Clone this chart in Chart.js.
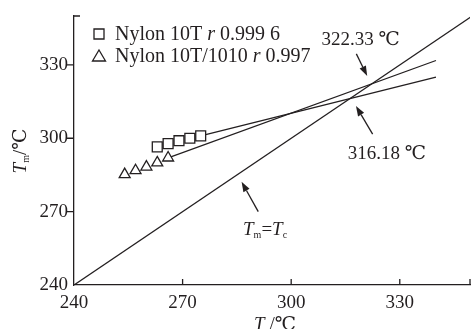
<!DOCTYPE html>
<html><head><meta charset="utf-8">
<script src="https://cdn.jsdelivr.net/npm/chart.js@4.4.0/dist/chart.umd.min.js"></script>
<style>html,body{margin:0;padding:0;background:#fff}</style>
</head><body>
<canvas id="c" width="471" height="329"></canvas>
<script>
// ---- data ----
const tcSquare   = [263, 266, 269, 272, 275];
const tmSquare   = [296.5, 297.8, 299.0, 300.0, 301.0];
const tcTriangle = [254, 257, 260, 263, 266];
const tmTriangle = [285.2, 286.8, 288.3, 290.0, 292.0];
const fitSquareX   = [275, 340];
const fitSquareY   = [301.0, 325.0];
const fitTriangleX = [266, 340];
const fitTriangleY = [292.0, 331.8];
const diagX = [240, 350];
const diagY = [240, 350];
const tickValues = [240, 270, 300, 330];
const xMin = 240, xMax = 349.4;
const yMin = 240, yMax = 350;
const legendSquare   = ['Nylon 10T ', 'r', ' 0.999 6'];
const legendTriangle = ['Nylon 10T/1010 ', 'r', ' 0.997'];
const label1 = '322.33 ℃';
const label2 = '316.18 ℃';

// annotation anchors in data units
const label1Pos = [308.4, 338.1];
const arrow1 = [[318.0, 334.5], [321.0, 325.5]];
const label2Pos = [315.6, 291.4];
const arrow2 = [[322.5, 301.7], [317.9, 313.2]];
const label3Pos = [286.7, 260.4];
const arrow3 = [[290.9, 270.0], [286.3, 282.2]];

const ink = '#231f20';
const serif = "'Liberation Serif', 'DejaVu Serif', serif";
const fs = 19;
const legendFs = 20;

const pts = (xs, ys) => xs.map((x, i) => ({x, y: ys[i]}));

function font(size, italic) { return (italic ? 'italic ' : '') + size + 'px ' + serif; }

function drawRich(ctx, x, y, segs, align, base) {
  const b = base || fs;
  let total = 0;
  segs.forEach(s => { ctx.font = font(s.size || b, s.it); s.w = ctx.measureText(s.t).width; total += s.w; });
  let cx = align === 'center' ? x - total / 2 : x;
  ctx.textAlign = 'left';
  ctx.textBaseline = 'alphabetic';
  segs.forEach(s => {
    ctx.font = font(s.size || b, s.it);
    ctx.fillText(s.t, cx, y + (s.dy || 0));
    cx += s.w;
  });
}

function arrow(ctx, x1, y1, x2, y2) {
  const ang = Math.atan2(y2 - y1, x2 - x1);
  const L = 10, W = 3.5;
  const bx = x2 - L * Math.cos(ang), by = y2 - L * Math.sin(ang);
  ctx.beginPath();
  ctx.moveTo(x1, y1); ctx.lineTo(bx, by); ctx.stroke();
  ctx.beginPath();
  ctx.moveTo(x2, y2);
  ctx.lineTo(bx + W * Math.sin(ang), by - W * Math.cos(ang));
  ctx.lineTo(bx - W * Math.sin(ang), by + W * Math.cos(ang));
  ctx.closePath(); ctx.fill();
}

const overlay = {
  id: 'overlay',
  afterDraw(chart) {
    const ctx = chart.ctx, xs = chart.scales.x, ys = chart.scales.y, a = chart.chartArea;
    ctx.save();
    ctx.strokeStyle = ink; ctx.fillStyle = ink; ctx.lineWidth = 1.3;
    // tick marks
    ctx.beginPath();
    tickValues.slice(1).concat([xMax]).forEach(v => {
      const px = Math.min(xs.getPixelForValue(v), a.right);
      ctx.moveTo(px, a.bottom); ctx.lineTo(px, a.bottom - 6);
    });
    tickValues.slice(1).forEach(v => {
      const py = ys.getPixelForValue(v);
      ctx.moveTo(a.left, py); ctx.lineTo(a.left - 7, py);
    });
    const pt = ys.getPixelForValue(yMax);
    ctx.moveTo(a.left, pt); ctx.lineTo(a.left + 6, pt);
    ctx.stroke();

    // annotations
    const P = p => [xs.getPixelForValue(p[0]), ys.getPixelForValue(p[1])];
    let p = P(label1Pos);
    drawRich(ctx, p[0], p[1], [{t: label1}], 'left');
    p = P(label2Pos);
    drawRich(ctx, p[0], p[1], [{t: label2}], 'left');
    p = P(label3Pos);
    drawRich(ctx, p[0], p[1], [{t: 'T', it: true}, {t: 'm', size: 10, dy: 3}, {t: '='}, {t: 'T', it: true}, {t: 'c', size: 10, dy: 3}], 'left');
    [arrow1, arrow2, arrow3].forEach(ar => {
      const s = P(ar[0]), e = P(ar[1]);
      arrow(ctx, s[0], s[1], e[0], e[1]);
    });

    // legend
    const lx = a.left + 25, ly1 = a.top + 18, ly2 = a.top + 40;
    ctx.fillStyle = '#fff';
    ctx.beginPath(); ctx.rect(lx - 5, ly1 - 5, 10, 10); ctx.fill(); ctx.stroke();
    ctx.beginPath();
    ctx.moveTo(lx, ly2 - 6); ctx.lineTo(lx + 6.5, ly2 + 5); ctx.lineTo(lx - 6.5, ly2 + 5); ctx.closePath();
    ctx.fill(); ctx.stroke();
    ctx.fillStyle = ink;
    drawRich(ctx, lx + 16, ly1 + 6, [{t: legendSquare[0]}, {t: legendSquare[1], it: true}, {t: legendSquare[2]}], 'left', legendFs);
    drawRich(ctx, lx + 16, ly2 + 6, [{t: legendTriangle[0]}, {t: legendTriangle[1], it: true}, {t: legendTriangle[2]}], 'left', legendFs);

    // axis titles
    drawRich(ctx, 275, 329.5, [{t: 'T', it: true}, {t: ' /℃'}], 'center');
    ctx.translate(26, 151);
    ctx.rotate(-Math.PI / 2);
    drawRich(ctx, 0, 0, [{t: 'T', it: true}, {t: 'm', size: 10, dy: 3}, {t: '/℃'}], 'center');
    ctx.restore();
  }
};

const tickFont = {family: serif, size: fs};
const baseScale = {
  type: 'linear',
  afterBuildTicks: s => { s.ticks = tickValues.map(v => ({value: v})); },
  grid: {display: false, drawTicks: false},
  border: {display: true, color: ink, width: 1.3},
};

new Chart(document.getElementById('c'), {
  type: 'scatter',
  data: {
    datasets: [
      {data: pts(diagX, diagY), showLine: true, borderColor: ink, borderWidth: 1.3, pointRadius: 0, order: 5},
      {data: pts(fitSquareX, fitSquareY), showLine: true, borderColor: ink, borderWidth: 1.3, pointRadius: 0, order: 4},
      {data: pts(fitTriangleX, fitTriangleY), showLine: true, borderColor: ink, borderWidth: 1.3, pointRadius: 0, order: 3},
      {data: pts(tcSquare, tmSquare), pointStyle: 'rect', pointRadius: 7, borderColor: ink, backgroundColor: '#fff', borderWidth: 1.3, order: 1},
      {data: pts(tcTriangle, tmTriangle), pointStyle: 'triangle', pointRadius: 6.3, borderColor: ink, backgroundColor: '#fff', borderWidth: 1.3, order: 2}
    ]
  },
  options: {
    responsive: false, animation: false, devicePixelRatio: 1,
    layout: {autoPadding: false, padding: {top: 16, right: 1, left: 0, bottom: 0}},
    plugins: {legend: {display: false}, tooltip: {enabled: false}},
    scales: {
      x: Object.assign({}, baseScale, {
        min: xMin, max: xMax,
        afterFit: s => { s.height = 44; s.paddingLeft = 0; s.paddingRight = 0; },
        ticks: {padding: 7, font: tickFont, color: ink, maxRotation: 0, autoSkip: false}
      }),
      y: Object.assign({}, baseScale, {
        min: yMin, max: yMax,
        afterFit: s => { s.width = 74; s.paddingTop = 0; s.paddingBottom = 0; },
        ticks: {padding: 6, font: tickFont, color: ink, autoSkip: false}
      })
    }
  },
  plugins: [overlay]
});
</script>
</body></html>
